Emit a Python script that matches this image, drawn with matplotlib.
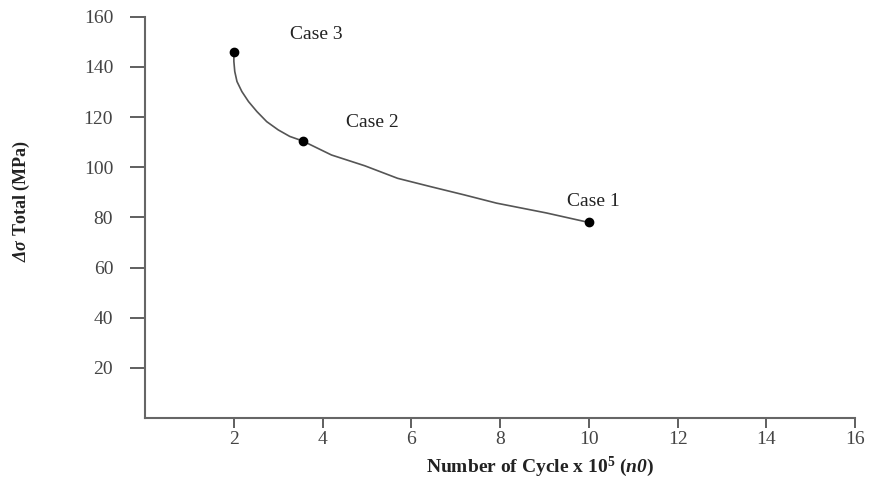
import numpy as np
import matplotlib.pyplot as plt

plt.rcParams['font.family'] = ['Liberation Serif', 'DejaVu Serif']
plt.rcParams['mathtext.fontset'] = 'custom'
plt.rcParams['mathtext.rm'] = 'Liberation Serif'
plt.rcParams['mathtext.it'] = 'Liberation Serif:italic'
plt.rcParams['mathtext.bf'] = 'Liberation Serif:bold'
plt.rcParams['mathtext.bfit'] = 'Liberation Serif:bold:italic'

# curve
curve_x = [2.0, 2.0, 2.02, 2.07, 2.18, 2.33, 2.52, 2.74, 3.0, 3.26, 3.55,
           4.2, 4.95, 5.69, 6.43, 7.19, 7.92, 9.04, 10.0]
curve_y = [146, 142.2, 138.2, 134.2, 130.2, 126.2, 122.2, 118.2, 114.9, 112.3, 110.5,
           104.9, 100.6, 95.6, 92.3, 89.0, 85.7, 81.8, 78.0]

# the three cases
case_x = [10.0, 3.55, 2.0]
case_y = [78.0, 110.5, 146.0]
case_names = ['Case 1', 'Case 2', 'Case 3']
label_x = [10.1, 5.13, 3.86]
label_y = [86.3, 118.0, 152.8]

x_ticks = [2, 4, 6, 8, 10, 12, 14, 16]
y_ticks = [20, 40, 60, 80, 100, 120, 140, 160]

fig = plt.figure(figsize=(8.69, 4.80), dpi=100)
ax = fig.add_axes([0.167, 0.129, 0.817, 0.836])

ax.plot(curve_x, curve_y, color='#555555', lw=1.2)
ax.plot(case_x, case_y, 'o', color='black', ms=6)
for nm, lx, ly in zip(case_names, label_x, label_y):
    ax.text(lx, ly, nm, ha='center', va='center', fontsize=14, color='#222222')

ax.set_xlim(0, 16)
ax.set_ylim(0, 160)
ax.set_xticks(x_ticks)
ax.set_yticks(y_ticks)
ax.tick_params(colors='#444444', labelsize=14, width=1.2)
ax.tick_params(axis='y', length=11, pad=12)
ax.tick_params(axis='x', length=7, pad=2)
for s in ['top', 'right']:
    ax.spines[s].set_visible(False)
for s in ['left', 'bottom']:
    ax.spines[s].set_color('#666666')
    ax.spines[s].set_linewidth(1.5)

ax.set_xlabel(r'Number of Cycle x 10$^{\mathbf{5}}$ ($\mathbfit{n0}$)',
              fontsize=14, fontweight='bold', color='#222222', va='center')
ax.xaxis.set_label_coords(0.556, -0.122)
ax.set_ylabel(r'$\mathbfit{\Delta\sigma}$ Total (MPa)', fontsize=13,
              fontweight='bold', color='#222222')
ax.yaxis.set_label_coords(-0.16, 0.54)

fig.savefig('out.png', dpi=100)
